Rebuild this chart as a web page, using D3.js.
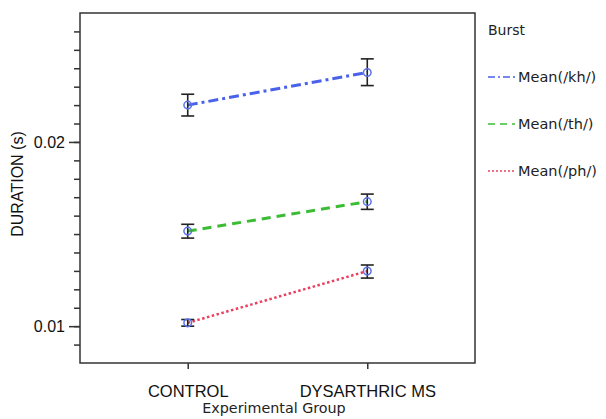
<!DOCTYPE html>
<html lang="en">
<head>
    <meta charset="UTF-8">
    <title>Duration by Experimental Group</title>
    <style>
        body { margin: 0; background: #fff; }
        svg { display: block; }
        .tick-label { font-family: "Liberation Sans", Arial, sans-serif; font-size: 16.5px; fill: #111; }
        .lucida { font-family: "DejaVu Sans", sans-serif; fill: #222; }
    </style>
</head>
<body>
    <svg id="chart"></svg>
    <script src="https://d3js.org/d3.v7.min.js"></script>
    <script>
        // Data
        const groups = ["CONTROL", "DYSARTHRIC MS"];
        const seriesNames = ["Mean(/kh/)", "Mean(/th/)", "Mean(/ph/)"];
        const khMean = [0.0220, 0.02377];
        const khLow = [0.02141, 0.02306];
        const khHigh = [0.02259, 0.02451];
        const thMean = [0.01516, 0.01676];
        const thLow = [0.01478, 0.01634];
        const thHigh = [0.01553, 0.01717];
        const phMean = [0.01018, 0.01299];
        const phLow = [0.0100, 0.01261];
        const phHigh = [0.01036, 0.01332];
        const yTicks = [0.01, 0.02];

        const w = 606, h = 419;
        const plot = { left: 80, right: 475, top: 13, bottom: 363 };

        const svg = d3.select("#chart").attr("width", w).attr("height", h);

        const x = d3.scalePoint().domain(groups).range([plot.left, plot.right]).padding(0.6);
        const y = d3.scaleLinear().domain([0.008, 0.027]).range([plot.bottom, plot.top]);

        // frame
        svg.append("rect")
            .attr("x", plot.left).attr("y", plot.top)
            .attr("width", plot.right - plot.left).attr("height", plot.bottom - plot.top)
            .attr("fill", "none").attr("stroke", "#333").attr("stroke-width", 1.5);

        // y axis: major ticks with labels, minor every 0.001
        const yAxis = d3.axisLeft(y).tickValues(yTicks).tickFormat(d3.format(".2f")).tickSize(11).tickPadding(4);
        const gy = svg.append("g").attr("transform", `translate(${plot.left},0)`).call(yAxis);
        gy.attr("font-size", null).attr("font-family", null);
        gy.select(".domain").remove();
        gy.selectAll("line").attr("stroke", "#333").attr("stroke-width", 1.5);
        gy.selectAll("text").attr("class", "tick-label").style("font-size", "16px");

        const minor = d3.axisLeft(y).tickValues(d3.range(9, 27).map(d => d / 1000)).tickFormat("").tickSize(6);
        const gm = svg.append("g").attr("transform", `translate(${plot.left},0)`).call(minor);
        gm.select(".domain").remove();
        gm.selectAll("line").attr("stroke", "#333").attr("stroke-width", 1.5);

        // x axis
        const xAxis = d3.axisBottom(x).tickSize(6).tickPadding(16);
        const gx = svg.append("g").attr("transform", `translate(0,${plot.bottom})`).call(xAxis);
        gx.attr("font-size", null).attr("font-family", null);
        gx.select(".domain").remove();
        gx.selectAll("line").attr("stroke", "#333").attr("stroke-width", 1.5);
        gx.selectAll("text").attr("class", "tick-label");

        // axis titles
        svg.append("text")
            .attr("class", "tick-label")
            .attr("transform", "translate(23,184) rotate(-90)")
            .attr("text-anchor", "middle")
            .style("font-size", "16px")
            .text("DURATION (s)");
        svg.append("text")
            .attr("class", "lucida")
            .attr("x", 274).attr("y", 413)
            .attr("text-anchor", "middle")
            .style("font-size", "14.3px")
            .text("Experimental Group");

        const series = [
            { name: seriesNames[0], mean: khMean, low: khLow, high: khHigh, color: "#4a62ea", dash: "10,4,3,4", width: 3 },
            { name: seriesNames[1], mean: thMean, low: thLow, high: thHigh, color: "#3cbc34", dash: "9,6", width: 3 },
            { name: seriesNames[2], mean: phMean, low: phLow, high: phHigh, color: "#ea4060", dash: "2.5,2.5", width: 2.5 }
        ];

        const line = d3.line().x((d, i) => x(groups[i])).y(d => y(d));

        series.forEach(s => {
            svg.append("path")
                .datum(s.mean)
                .attr("d", line)
                .attr("fill", "none")
                .attr("stroke", s.color)
                .attr("stroke-width", s.width)
                .attr("stroke-dasharray", s.dash);

            // error bars
            groups.forEach((g, i) => {
                const cx = x(g);
                const eb = svg.append("g").attr("stroke", "#222").attr("stroke-width", 1.6);
                eb.append("line").attr("x1", cx).attr("x2", cx).attr("y1", y(s.low[i])).attr("y2", y(s.high[i]));
                eb.append("line").attr("x1", cx - 6.5).attr("x2", cx + 6.5).attr("y1", y(s.low[i])).attr("y2", y(s.low[i]));
                eb.append("line").attr("x1", cx - 6.5).attr("x2", cx + 6.5).attr("y1", y(s.high[i])).attr("y2", y(s.high[i]));
            });

            svg.selectAll(null)
                .data(s.mean)
                .enter()
                .append("circle")
                .attr("cx", (d, i) => x(groups[i]))
                .attr("cy", d => y(d))
                .attr("r", 3.8)
                .attr("fill", "none")
                .attr("stroke", "#5a72e8")
                .attr("stroke-width", 1.5);
        });

        // legend
        svg.append("text")
            .attr("class", "lucida")
            .attr("x", 488).attr("y", 35)
            .style("font-size", "14px")
            .text("Burst");

        const lg = svg.selectAll(".legend")
            .data(series)
            .enter()
            .append("g")
            .attr("class", "legend")
            .attr("transform", (d, i) => `translate(488,${77 + i * 47})`);
        lg.append("line")
            .attr("x1", 0).attr("x2", 27)
            .attr("stroke", d => d.color)
            .attr("stroke-width", 1.5)
            .attr("stroke-dasharray", d => d.name === seriesNames[0] ? "7,3,2,3" : d.name === seriesNames[1] ? "7,5" : "2,2");
        lg.append("text")
            .attr("class", "lucida")
            .attr("x", 30).attr("y", 5)
            .style("font-size", "14.5px")
            .text(d => d.name);
    </script>
</body>
</html>
